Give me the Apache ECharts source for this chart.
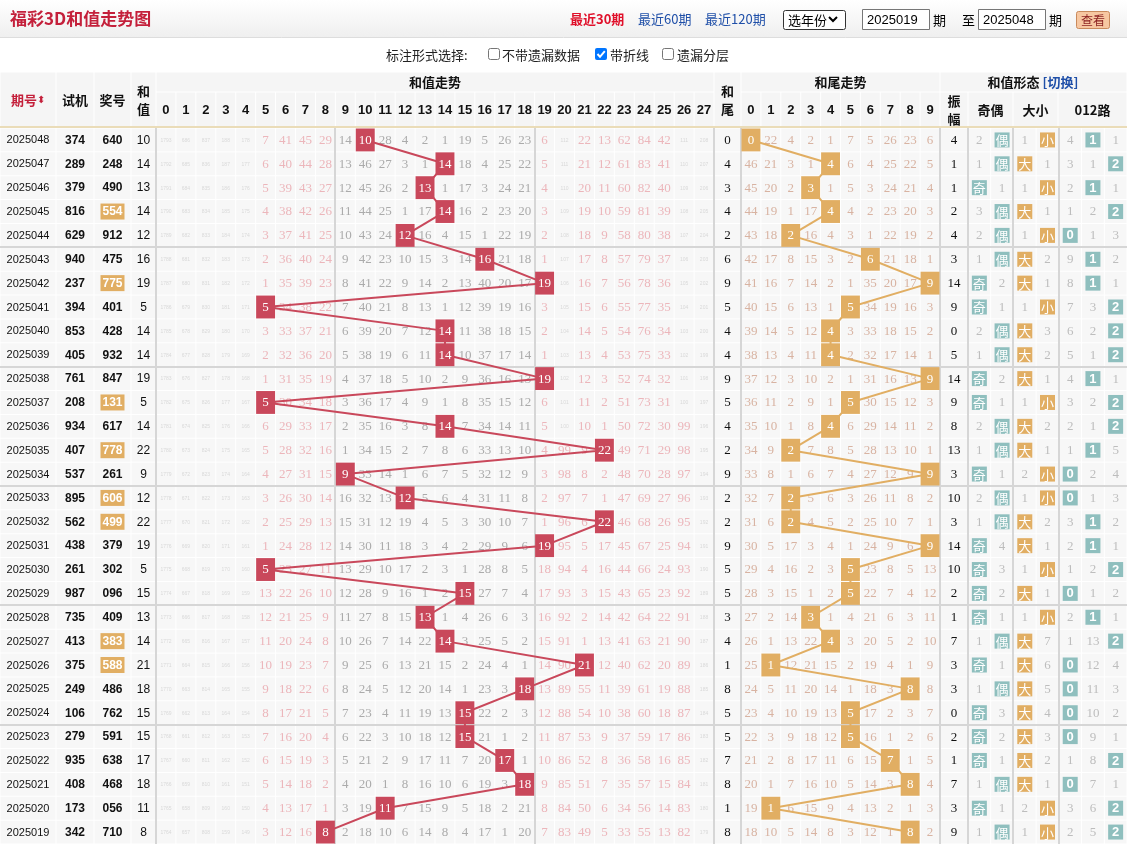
<!DOCTYPE html>
<html><head><meta charset="utf-8"><title>福彩3D和值走势图</title>
<script src="https://cdn.jsdelivr.net/npm/echarts@6.0.0/dist/echarts.min.js"></script>
<style>html,body{margin:0;padding:0;background:#fff;overflow:hidden}#chart{width:1127px;height:846px}</style>
</head><body><div id="chart"></div>
<script>
// ---------------- DATA ----------------
const periods = ['2025048','2025047','2025046','2025045','2025044','2025043','2025042','2025041','2025040','2025039','2025038','2025037','2025036','2025035','2025034','2025033','2025032','2025031','2025030','2025029','2025028','2025027','2025026','2025025','2025024','2025023','2025022','2025021','2025020','2025019'];
const trialNums = ['374','289','379','816','629','940','237','394','853','405','761','208','934','407','537','895','562','438','261','987','735','413','375','249','106','279','935','408','173','342'];
const prizeNums = ['640','248','490','554','912','475','775','401','428','932','847','131','617','778','261','606','499','379','302','096','409','383','588','486','762','591','638','468','056','710'];
const sumValues = [10,14,13,14,12,16,19,5,14,14,19,5,14,22,9,12,22,19,5,15,13,14,21,18,15,15,17,18,11,8];
const tailValues = [0,4,3,4,2,6,9,5,4,4,9,5,4,2,9,2,2,9,5,5,3,4,1,8,5,5,7,8,1,8];
const ampValues = [4,1,1,2,4,3,14,9,0,5,14,9,8,13,3,10,3,14,10,2,1,7,3,3,0,2,1,7,3,9];
// missing counts for sums 0..27 (0 = drawn this period)
const sumMiss = [
[1793,686,837,188,178,7,41,45,29,14,0,28,4,2,1,19,5,26,23,6,112,22,13,62,84,42,111,208],
[1792,685,836,187,177,6,40,44,28,13,46,27,3,1,0,18,4,25,22,5,111,21,12,61,83,41,110,207],
[1791,684,835,186,176,5,39,43,27,12,45,26,2,0,1,17,3,24,21,4,110,20,11,60,82,40,109,206],
[1790,683,834,185,175,4,38,42,26,11,44,25,1,17,0,16,2,23,20,3,109,19,10,59,81,39,108,205],
[1789,682,833,184,174,3,37,41,25,10,43,24,0,16,4,15,1,22,19,2,108,18,9,58,80,38,107,204],
[1788,681,832,183,173,2,36,40,24,9,42,23,10,15,3,14,0,21,18,1,107,17,8,57,79,37,106,203],
[1787,680,831,182,172,1,35,39,23,8,41,22,9,14,2,13,40,20,17,0,106,16,7,56,78,36,105,202],
[1786,679,830,181,171,0,34,38,22,7,40,21,8,13,1,12,39,19,16,3,105,15,6,55,77,35,104,201],
[1785,678,829,180,170,3,33,37,21,6,39,20,7,12,0,11,38,18,15,2,104,14,5,54,76,34,103,200],
[1784,677,828,179,169,2,32,36,20,5,38,19,6,11,0,10,37,17,14,1,103,13,4,53,75,33,102,199],
[1783,676,827,178,168,1,31,35,19,4,37,18,5,10,2,9,36,16,13,0,102,12,3,52,74,32,101,198],
[1782,675,826,177,167,0,30,34,18,3,36,17,4,9,1,8,35,15,12,6,101,11,2,51,73,31,100,197],
[1781,674,825,176,166,6,29,33,17,2,35,16,3,8,0,7,34,14,11,5,100,10,1,50,72,30,99,196],
[1780,673,824,175,165,5,28,32,16,1,34,15,2,7,8,6,33,13,10,4,99,9,0,49,71,29,98,195],
[1779,672,823,174,164,4,27,31,15,0,33,14,1,6,7,5,32,12,9,3,98,8,2,48,70,28,97,194],
[1778,671,822,173,163,3,26,30,14,16,32,13,0,5,6,4,31,11,8,2,97,7,1,47,69,27,96,193],
[1777,670,821,172,162,2,25,29,13,15,31,12,19,4,5,3,30,10,7,1,96,6,0,46,68,26,95,192],
[1776,669,820,171,161,1,24,28,12,14,30,11,18,3,4,2,29,9,6,0,95,5,17,45,67,25,94,191],
[1775,668,819,170,160,0,23,27,11,13,29,10,17,2,3,1,28,8,5,18,94,4,16,44,66,24,93,190],
[1774,667,818,169,159,13,22,26,10,12,28,9,16,1,2,0,27,7,4,17,93,3,15,43,65,23,92,189],
[1773,666,817,168,158,12,21,25,9,11,27,8,15,0,1,4,26,6,3,16,92,2,14,42,64,22,91,188],
[1772,665,816,167,157,11,20,24,8,10,26,7,14,22,0,3,25,5,2,15,91,1,13,41,63,21,90,187],
[1771,664,815,166,156,10,19,23,7,9,25,6,13,21,15,2,24,4,1,14,90,0,12,40,62,20,89,186],
[1770,663,814,165,155,9,18,22,6,8,24,5,12,20,14,1,23,3,0,13,89,55,11,39,61,19,88,185],
[1769,662,813,164,154,8,17,21,5,7,23,4,11,19,13,0,22,2,3,12,88,54,10,38,60,18,87,184],
[1768,661,812,163,153,7,16,20,4,6,22,3,10,18,12,0,21,1,2,11,87,53,9,37,59,17,86,183],
[1767,660,811,162,152,6,15,19,3,5,21,2,9,17,11,7,20,0,1,10,86,52,8,36,58,16,85,182],
[1766,659,810,161,151,5,14,18,2,4,20,1,8,16,10,6,19,3,0,9,85,51,7,35,57,15,84,181],
[1765,658,809,160,150,4,13,17,1,3,19,0,7,15,9,5,18,2,21,8,84,50,6,34,56,14,83,180],
[1764,657,808,159,149,3,12,16,0,2,18,10,6,14,8,4,17,1,20,7,83,49,5,33,55,13,82,179]
];
// missing counts for tails 0..9
const tailMiss = [
[0,22,4,2,1,7,5,26,23,6],[46,21,3,1,0,6,4,25,22,5],[45,20,2,0,1,5,3,24,21,4],[44,19,1,17,0,4,2,23,20,3],[43,18,0,16,4,3,1,22,19,2],
[42,17,8,15,3,2,0,21,18,1],[41,16,7,14,2,1,35,20,17,0],[40,15,6,13,1,0,34,19,16,3],[39,14,5,12,0,3,33,18,15,2],[38,13,4,11,0,2,32,17,14,1],
[37,12,3,10,2,1,31,16,13,0],[36,11,2,9,1,0,30,15,12,3],[35,10,1,8,0,6,29,14,11,2],[34,9,0,7,8,5,28,13,10,1],[33,8,1,6,7,4,27,12,9,0],
[32,7,0,5,6,3,26,11,8,2],[31,6,0,4,5,2,25,10,7,1],[30,5,17,3,4,1,24,9,6,0],[29,4,16,2,3,0,23,8,5,13],[28,3,15,1,2,0,22,7,4,12],
[27,2,14,0,1,4,21,6,3,11],[26,1,13,22,0,3,20,5,2,10],[25,0,12,21,15,2,19,4,1,9],[24,5,11,20,14,1,18,3,0,8],[23,4,10,19,13,0,17,2,3,7],
[22,3,9,18,12,0,16,1,2,6],[21,2,8,17,11,6,15,0,1,5],[20,1,7,16,10,5,14,3,0,4],[19,0,6,15,9,4,13,2,1,3],[18,10,5,14,8,3,12,1,0,2]
];
// missing counts for 奇,偶,大,小,0路,1路,2路 (0 = this period)
const formMiss = [
[2,0,1,0,4,0,1],[1,0,0,1,3,1,0],[0,1,1,0,2,0,1],[3,0,0,1,1,2,0],[2,0,1,0,0,1,3],
[1,0,0,2,9,0,2],[0,2,0,1,8,0,1],[0,1,1,0,7,3,0],[2,0,0,3,6,2,0],[1,0,0,2,5,1,0],
[0,2,0,1,4,0,1],[0,1,1,0,3,2,0],[2,0,0,2,2,1,0],[1,0,0,1,1,0,5],[0,1,2,0,0,2,4],
[2,0,1,0,0,1,3],[1,0,0,2,3,0,2],[0,4,0,1,2,0,1],[0,3,1,0,1,2,0],[0,2,0,1,0,1,2],
[0,1,1,0,2,0,1],[1,0,0,7,1,13,0],[0,1,0,6,0,12,4],[1,0,0,5,0,11,3],[0,3,0,4,0,10,2],
[0,2,0,3,0,9,1],[0,1,0,2,1,8,0],[1,0,0,1,0,7,1],[0,1,2,0,3,6,0],[1,0,1,0,2,5,0]
];
const sumAxisLabels = ['0','1','2','3','4','5','6','7','8','9','10','11','12','13','14','15','16','17','18','19','20','21','22','23','24','25','26','27'];
const tailAxisLabels = ['0','1','2','3','4','5','6','7','8','9'];
const formLabels = ['奇','偶','大','小','0','1','2'];

// ---------------- STYLE / LAYOUT ----------------
const CJK = '"Noto Sans CJK SC","Noto Sans",sans-serif';
const NUM = '"Liberation Serif","DejaVu Serif",serif';
const SANS = '"Liberation Sans",Arial,sans-serif';
const COL = {
  cellBg:'#f7f7f7', hdrBg:'#f3f3f3', sep:'#d6d6d6',
  sumHit:'#c9485b', tailHit:'#e1ae63', teal:'#8fbfbe', tan:'#e1ae63',
  pink:'#ecb6bb', gray:'#ababab', tailTxt:'#d8b3a2', formTxt:'#bdbdbd', tiny:'#d9d9d9'
};
const TOP = 128, BODY_H = 716;
const GRIDS = [
  {key:'period', left:0, width:56},
  {key:'trial', left:56, width:38},
  {key:'prize', left:94, width:37},
  {key:'sum', left:131, width:25},
  {key:'sumTrend', left:156, width:558},
  {key:'tail', left:714, width:27},
  {key:'tailTrend', left:741, width:199},
  {key:'amp', left:940, width:28},
  {key:'form', left:968, width:159}
];
const GI = {}; GRIDS.forEach((g,i)=>GI[g.key]=i);

const chart = echarts.init(document.getElementById('chart'));

function cellSeries(gi, cells, z) {
  return {
    type:'custom', xAxisIndex:gi, yAxisIndex:gi, z:z||1, silent:true, animation:false,
    data: cells.map(c=>[c.col, c.row]),
    renderItem: function(params, api){
      const c = cells[params.dataIndex];
      const p = api.coord([api.value(0), api.value(1)]);
      const s = api.size([1,1]);
      const w = s[0], h = s[1];
      const ch = [];
      if (c.bg) ch.push({type:'rect', shape:{x:p[0]-w/2+0.5, y:p[1]-h/2+0.5, width:w-1, height:h-1}, style:{fill:c.bg}});
      if (c.badge) ch.push({type:'rect', shape:{x:p[0]-c.badge.w/2, y:p[1]-c.badge.h/2, width:c.badge.w, height:c.badge.h}, style:{fill:c.badge.color}});
      if (c.text !== undefined && c.text !== null) ch.push({type:'text', x:p[0], y:p[1]+0.5, style:{text:String(c.text), fill:c.color, font:c.font, align:'center', verticalAlign:'middle'}});
      return {type:'group', children:ch};
    }
  };
}
function frameSeries(gi, vcols) {
  return {
    type:'custom', xAxisIndex:gi, yAxisIndex:gi, z:1.5, silent:true, animation:false, clip:false,
    data:[[0,0]],
    renderItem: function(params, api){
      const cs = params.coordSys; const s = api.size([1,1]);
      const ch = [];
      for (let r=5; r<30; r+=5) {
        const y = Math.round(cs.y + r*s[1]);
        ch.push({type:'line', shape:{x1:cs.x, y1:y, x2:cs.x+cs.width, y2:y}, style:{stroke:COL.sep, lineWidth:2}});
      }
      vcols.forEach(c=>{
        const x = Math.round(cs.x + c*s[0]);
        ch.push({type:'line', shape:{x1:x, y1:cs.y, x2:x, y2:cs.y+cs.height}, style:{stroke:COL.sep, lineWidth:2}});
      });
      return {type:'group', children:ch};
    }
  };
}

const series = [];
// info columns
const infoCells = {period:[], trial:[], prize:[], sum:[], tail:[], amp:[]};
periods.forEach((p,i)=>{
  infoCells.period.push({col:0,row:i,bg:COL.cellBg,text:p,color:'#111',font:'11px '+SANS});
  infoCells.trial.push({col:0,row:i,bg:COL.cellBg,text:trialNums[i],color:'#111',font:'bold 12px '+SANS});
  const g3 = new Set(prizeNums[i].split('')).size === 2;
  infoCells.prize.push({col:0,row:i,bg:COL.cellBg,text:prizeNums[i],color:g3?'#fff':'#111',font:'bold 12px '+SANS,badge:g3?{w:24,h:16,color:COL.tan}:null});
  infoCells.sum.push({col:0,row:i,bg:COL.cellBg,text:sumValues[i],color:'#111',font:'12px '+SANS});
  infoCells.tail.push({col:0,row:i,bg:COL.cellBg,text:tailValues[i],color:'#111',font:'13px '+NUM});
  infoCells.amp.push({col:0,row:i,bg:COL.cellBg,text:ampValues[i],color:'#111',font:'13px '+NUM});
});
['period','trial','prize','sum','tail','amp'].forEach(k=>series.push(cellSeries(GI[k], infoCells[k])));

// sum trend
const sumCells = [];
sumMiss.forEach((row,i)=>row.forEach((v,c)=>{
  if (v === 0) { sumCells.push({col:c,row:i,bg:COL.cellBg}); return; }
  const big = v >= 100;
  sumCells.push({col:c,row:i,bg:COL.cellBg,text:v,
    color: big ? COL.tiny : ((c<=8 || c>=19) ? COL.pink : COL.gray),
    font: big ? '5px '+SANS : '13px '+NUM});
}));
series.push(cellSeries(GI.sumTrend, sumCells, 1));
series.push(frameSeries(GI.sumTrend, [0, 9, 19, 28]));
series.push({type:'line', xAxisIndex:GI.sumTrend, yAxisIndex:GI.sumTrend, z:2, silent:true, animation:false,
  data: sumValues.map((v,i)=>[v,i]), symbol:'none', lineStyle:{color:COL.sumHit, width:2}});
series.push(cellSeries(GI.sumTrend, sumValues.map((v,i)=>({col:v,row:i,bg:COL.sumHit,text:v,color:'#fff',font:'13px '+NUM})), 3));

// tail trend
const tailCells = [];
tailMiss.forEach((row,i)=>row.forEach((v,c)=>{
  if (v === 0) { tailCells.push({col:c,row:i,bg:COL.cellBg}); return; }
  tailCells.push({col:c,row:i,bg:COL.cellBg,text:v,color:COL.tailTxt,font:'13px '+NUM});
}));
series.push(cellSeries(GI.tailTrend, tailCells, 1));
series.push(frameSeries(GI.tailTrend, [0, 10]));
series.push({type:'line', xAxisIndex:GI.tailTrend, yAxisIndex:GI.tailTrend, z:2, silent:true, animation:false,
  data: tailValues.map((v,i)=>[v,i]), symbol:'none', lineStyle:{color:COL.tailHit, width:2}});
series.push(cellSeries(GI.tailTrend, tailValues.map((v,i)=>({col:v,row:i,bg:COL.tailHit,text:v,color:'#fff',font:'13px '+NUM})), 3));

// form columns
const formCells = [];
formMiss.forEach((row,i)=>row.forEach((v,c)=>{
  if (v === 0) {
    const isTan = (c===2 || c===3);
    formCells.push({col:c,row:i,bg:COL.cellBg,text:formLabels[c],color:'#fff',
      font: (c>=4 ? 'bold 13px '+SANS : '13px '+CJK), badge:{w:15,h:15,color:isTan?COL.tan:COL.teal}});
  } else {
    formCells.push({col:c,row:i,bg:COL.cellBg,text:v,color:COL.formTxt,font:'13px '+NUM});
  }
}));
series.push(cellSeries(GI.form, formCells, 1));
series.push(frameSeries(GI.form, [0, 2, 4]));
['period','trial','prize','sum','tail','amp'].forEach(k=>series.push(frameSeries(GI[k], k==='tail'||k==='amp'?[0]:[])));

// axes
const xAxis = GRIDS.map((g,i)=>{
  let data = [''];
  if (g.key==='sumTrend') data = sumAxisLabels;
  else if (g.key==='tailTrend') data = tailAxisLabels;
  else if (g.key==='form') data = formLabels;
  const show = (g.key==='sumTrend' || g.key==='tailTrend');
  return {type:'category', gridIndex:i, data:data, position:'top', boundaryGap:true,
    axisLine:{show:false}, axisTick:{show:false}, splitLine:{show:false},
    axisLabel:{show:show, interval:0, margin:11, color:'#111', fontSize:13, fontWeight:'bold', fontFamily:SANS}};
});
const yAxis = GRIDS.map((g,i)=>({type:'category', gridIndex:i, data:periods, inverse:true, show:false, boundaryGap:true}));
const grid = GRIDS.map(g=>({left:g.left, width:g.width, top:TOP, height:BODY_H, containLabel:false}));

// ---------------- GRAPHIC (page chrome & header) ----------------
const gfx = [];
function rect(x,y,w,h,fill,stroke,r){ gfx.push({type:'rect', shape:{x,y,width:w,height:h,r:r||0}, style:{fill:fill||'none', stroke:stroke||null, lineWidth:1}, z:-1}); }
function text(x,y,t,font,fill,align){ gfx.push({type:'text', x, y, style:{text:t, font, fill, align:align||'left', verticalAlign:'middle'}, z:10}); }
// top bar
gfx.push({type:'rect', shape:{x:0,y:0,width:1127,height:37}, style:{fill:new echarts.graphic.LinearGradient(0,0,0,1,[{offset:0,color:'#ffffff'},{offset:1,color:'#efefef'}])}, z:-2});
gfx.push({type:'line', shape:{x1:0,y1:37.5,x2:1127,y2:37.5}, style:{stroke:'#dddddd'}, z:-1});
text(10,19,'福彩3D和值走势图','bold 17px '+CJK,'#c4203b');
text(570,19,'最近30期','bold 13px '+CJK,'#e0102a');
text(638,19,'最近60期','13px '+CJK,'#1f4fa8');
text(705,19,'最近120期','13px '+CJK,'#1f4fa8');
rect(783.5,10.5,62,19,'#fff','#333',2);
text(788,20,'选年份','13px '+CJK,'#000');
gfx.push({type:'polyline', shape:{points:[[829,17],[833,21],[837,17]]}, style:{stroke:'#000', lineWidth:2, fill:'none'}, z:10});
rect(862.5,9.5,67,20,'#fff','#767676',0);
text(867,20,'2025019','13px '+SANS,'#000');
text(933,20,'期','13px '+CJK,'#000');
text(962,20,'至','13px '+CJK,'#000');
rect(978.5,9.5,67,20,'#fff','#767676',0);
text(983,20,'2025048','13px '+SANS,'#000');
text(1049,20,'期','13px '+CJK,'#000');
rect(1076.5,11.5,33,17,'#f7c7a1','#c98a5c',2);
text(1093,20,'查看','12px '+CJK,'#8a1f1f','center');
// options row
text(386,55,'标注形式选择:','13px '+CJK,'#222');
function checkbox(x,y,checked){
  if (checked) {
    rect(x,y,12,12,'#0075ff',null,2);
    gfx.push({type:'polyline', shape:{points:[[x+2.5,y+6],[x+5,y+8.8],[x+9.8,y+3.2]]}, style:{stroke:'#fff', lineWidth:2, fill:'none'}, z:10});
  } else rect(x+0.5,y+0.5,11,11,'#fff','#767676',2);
}
checkbox(488,48,false); text(502,55,'不带遗漏数据','13px '+CJK,'#222');
checkbox(595,48,true); text(610,55,'带折线','13px '+CJK,'#222');
checkbox(662,48,false); text(677,55,'遗漏分层','13px '+CJK,'#222');
// table header
const HB = '#f5f5f5';
function hcell(x,y,w,h,t,font,fill){ rect(x+0.5,y+0.5,w-1,h-1,HB,null); if (t) text(x+w/2,y+h/2,t,font||('bold 13px '+CJK),fill||'#111','center'); }
hcell(0,72,56,56,'');
gfx.push({type:'text', x:28, y:100, style:{text:'{a|期号}{b|⬍}', align:'center', verticalAlign:'middle', rich:{a:{font:'bold 13px '+CJK, fill:'#c4203b'}, b:{font:'10px '+SANS, fill:'#c4203b'}}}, z:10});
hcell(56,72,38,56,'试机');
hcell(94,72,37,56,'奖号');
hcell(131,72,25,56,'');
gfx.push({type:'text', x:143.5, y:100, style:{text:'和\n值', font:'bold 13px '+CJK, fill:'#111', align:'center', verticalAlign:'middle', lineHeight:18}, z:10});
hcell(156,72,558,20,'和值走势');
for (let k=0;k<28;k++) hcell(156+k*558/28,92,558/28,36,'');
hcell(714,72,27,56,'');
gfx.push({type:'text', x:727.5, y:100, style:{text:'和\n尾', font:'bold 13px '+CJK, fill:'#111', align:'center', verticalAlign:'middle', lineHeight:18}, z:10});
hcell(741,72,199,20,'和尾走势');
for (let k=0;k<10;k++) hcell(741+k*19.9,92,19.9,36,'');
hcell(940,72,187,20,'');
gfx.push({type:'text', x:1033, y:82, style:{text:'{a|和值形态 }{b|[切换]}', align:'center', verticalAlign:'middle', rich:{a:{font:'bold 13px '+CJK, fill:'#111'}, b:{font:'bold 13px '+CJK, fill:'#1f4fa8'}}}, z:10});
hcell(940,92,28,36,'');
gfx.push({type:'text', x:954, y:110, style:{text:'振\n幅', font:'bold 13px '+CJK, fill:'#111', align:'center', verticalAlign:'middle', lineHeight:18}, z:10});
hcell(968,92,45,36,'奇偶');
hcell(1013,92,45,36,'大小');
hcell(1058,92,69,36,'012路');
gfx.push({type:'line', shape:{x1:0,y1:127,x2:1127,y2:127}, style:{stroke:'#eadcb8', lineWidth:2}, z:0});

chart.setOption({
  animation:false,
  backgroundColor:'#ffffff',
  grid, xAxis, yAxis, series,
  graphic: gfx
});
</script></body></html>
